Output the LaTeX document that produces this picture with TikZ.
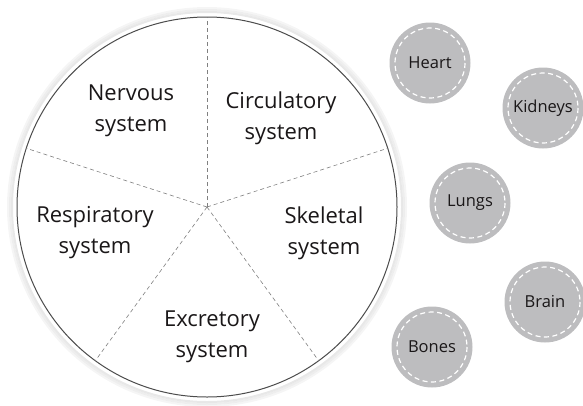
\documentclass[tikz,border=0pt]{standalone}
\usepackage{fontspec}
\setmainfont{Open Sans}
\usepackage{tikz}
\usetikzlibrary{calc}
\definecolor{txt}{HTML}{1A1718}
\definecolor{organfill}{HTML}{BDBDBF}
\tikzset{
  system/.style={align=center,text=txt,font=\fontsize{22}{31}\selectfont},
  organ/.style={circle,fill=organfill,minimum size=81pt,inner sep=0pt,text=txt,font=\fontsize{16.5}{18}\selectfont},
  spoke/.style={gray,line width=0.6pt,dash pattern=on 4pt off 3pt}
}

\begin{document}
\begin{tikzpicture}[x=1pt,y=-1pt,line cap=butt]
\useasboundingbox (0,0) rectangle (583,405);
\def\R{190}
\coordinate (c) at (207,207);
% halo round the wheel
\foreach \r/\o in {199/0.25,197/0.45,195/0.6} \draw[gray!30,line width=2pt,opacity=\o] (c) circle (\r);
\fill[white] (c) circle (193);
% wheel
\draw[black!70,line width=1pt] (c) circle (\R);
% spokes
\foreach \a in {90,162,234,306,18} \draw[spoke] (c) -- ++(\a:-\R) coordinate (s\a);
% sectors
\node[system] (nervous) at (131,111) {Nervous\\system};
\node[system] (circulatory) at (281,118) {Circulatory\\system};
\node[system] (respiratory) at (95,233) {Respiratory\\system};
\node[system] (skeletal) at (324,233) {Skeletal\\system};
\node[system] (excretory) at (212,337) {Excretory\\system};
% organs
\foreach \n/\x/\y in {Heart/430/63,Kidneys/543/108,Lungs/470/203,Brain/545/302,Bones/432/347} {
  \node[organ] (\n) at (\x,\y) {\n};
  \draw[white,line width=1.2pt,dash pattern=on 5pt off 3.5pt] (\n.center) circle (35);
}
\end{tikzpicture}
\end{document}
